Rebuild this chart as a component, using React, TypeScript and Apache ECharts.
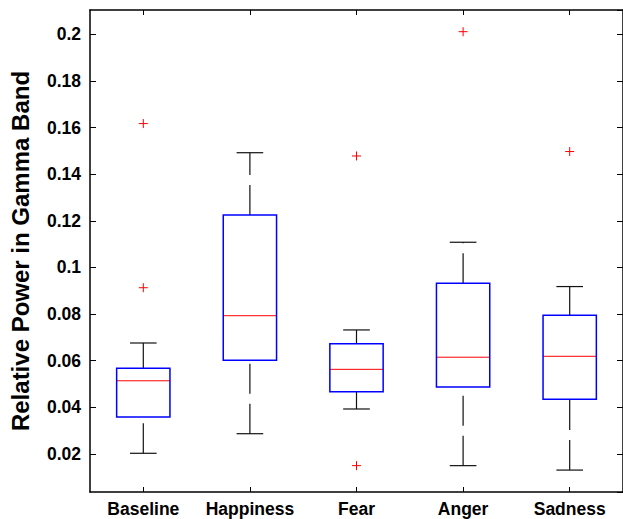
import React, { useEffect, useRef } from "react";
import * as echarts from "echarts";

const categories = ["Baseline", "Happiness", "Fear", "Anger", "Sadness"];
const lowerWhisker = [0.0203, 0.0287, 0.0393, 0.015, 0.0131];
const q1 = [0.0359, 0.0602, 0.0467, 0.0487, 0.0435];
const median = [0.0514, 0.0793, 0.0563, 0.0615, 0.0619];
const q3 = [0.0568, 0.1225, 0.0673, 0.0932, 0.0795];
const upperWhisker = [0.0676, 0.1492, 0.0732, 0.1108, 0.0918];
const outlierCategory = [0, 0, 2, 2, 3, 4];
const outlierValue = [0.1617, 0.0913, 0.1478, 0.015, 0.2011, 0.1497];

const Y_MIN = 0.0037;
const Y_MAX = 0.2104;
const FONT = "'Liberation Sans', Arial, Helvetica, sans-serif";

export default function App() {
  const ref = useRef<HTMLDivElement>(null);

  useEffect(() => {
    if (!ref.current) return;
    const chart = echarts.init(ref.current, undefined, { renderer: "svg" });

    const boxData = categories.map((_, i) => [
      i,
      lowerWhisker[i],
      q1[i],
      median[i],
      q3[i],
      upperWhisker[i],
    ]);
    const outlierData = outlierCategory.map((c, i) => [c, outlierValue[i]]);

    const axisLineStyle = { color: "#000", width: 1.5 };
    const tickStyle = { color: "#000", width: 1 };

    const yLabelFormatter = (v: number) => {
      const k = Math.round(v / 0.02);
      if (Math.abs(v - k * 0.02) > 1e-6 || k === 0) return "";
      return String(+(k * 0.02).toFixed(2));
    };

    const option: any = {
      animation: false,
      backgroundColor: "#fff",
      grid: { left: 90, top: 10, width: 537, height: 482, containLabel: false },
      xAxis: [
        {
          type: "category",
          data: categories,
          position: "bottom",
          boundaryGap: true,
          axisLine: { show: true, onZero: false, lineStyle: axisLineStyle },
          axisTick: { show: true, inside: true, alignWithLabel: true, interval: 0, length: 5, lineStyle: tickStyle },
          axisLabel: {
            interval: 0,
            hideOverlap: false,
            color: "#000",
            fontFamily: FONT,
            fontWeight: "bold",
            fontSize: 17.5,
            margin: 8,
          },
          splitLine: { show: false },
        },
        {
          type: "category",
          data: categories,
          position: "top",
          boundaryGap: true,
          axisLine: { show: true, onZero: false, lineStyle: axisLineStyle },
          axisTick: { show: true, inside: true, alignWithLabel: true, interval: 0, length: 5, lineStyle: tickStyle },
          axisLabel: { show: false, interval: 0 },
          splitLine: { show: false },
        },
      ],
      yAxis: [
        {
          type: "value",
          position: "left",
          min: Y_MIN,
          max: Y_MAX,
          splitNumber: 10,
          name: "Relative Power in Gamma Band",
          nameLocation: "middle",
          nameGap: 58,
          nameTextStyle: {
            color: "#000",
            fontFamily: FONT,
            fontWeight: "bold",
            fontSize: 24,
          },
          axisLine: { show: true, onZero: false, lineStyle: axisLineStyle },
          axisTick: { show: true, inside: true, length: 6, lineStyle: tickStyle },
          axisLabel: {
            color: "#000",
            fontFamily: FONT,
            fontWeight: "bold",
            fontSize: 17.5,
            margin: 9,
            showMinLabel: false,
            showMaxLabel: false,
            formatter: yLabelFormatter,
          },
          splitLine: { show: false },
        },
        {
          type: "value",
          position: "right",
          min: Y_MIN,
          max: Y_MAX,
          splitNumber: 10,
          axisLine: { show: true, onZero: false, lineStyle: axisLineStyle },
          axisTick: { show: true, inside: true, length: 6, lineStyle: tickStyle },
          axisLabel: { show: false },
          splitLine: { show: false },
        },
      ],
      series: [
        {
          type: "custom",
          xAxisIndex: 0,
          yAxisIndex: 0,
          data: boxData,
          encode: { x: 0, y: [1, 2, 3, 4, 5] },
          renderItem: (params: any, api: any) => {
            const idx = api.value(0);
            const x = api.coord([idx, api.value(3)])[0];
            const band = api.size([1, 0])[0];
            const bw = band * 0.25;
            const cw = band * 0.125;
            const yLo = api.coord([idx, api.value(1)])[1];
            const yQ1 = api.coord([idx, api.value(2)])[1];
            const yMed = api.coord([idx, api.value(3)])[1];
            const yQ3 = api.coord([idx, api.value(4)])[1];
            const yHi = api.coord([idx, api.value(5)])[1];
            const whiskerStyle = { stroke: "#111", lineWidth: 1.2, lineDash: [30, 10], fill: "none" };
            const capStyle = { stroke: "#111", lineWidth: 1.2, fill: "none" };
            return {
              type: "group",
              children: [
                {
                  type: "line",
                  shape: { x1: x, y1: yQ3, x2: x, y2: yHi },
                  style: whiskerStyle,
                },
                {
                  type: "line",
                  shape: { x1: x, y1: yLo, x2: x, y2: yQ1 },
                  style: whiskerStyle,
                },
                {
                  type: "line",
                  shape: { x1: x - cw, y1: yHi, x2: x + cw, y2: yHi },
                  style: capStyle,
                },
                {
                  type: "line",
                  shape: { x1: x - cw, y1: yLo, x2: x + cw, y2: yLo },
                  style: capStyle,
                },
                {
                  type: "line",
                  shape: { x1: x - bw, y1: yMed, x2: x + bw, y2: yMed },
                  style: { stroke: "#ff0000", lineWidth: 1, fill: "none" },
                },
                {
                  type: "rect",
                  shape: { x: x - bw, y: yQ3, width: 2 * bw, height: yQ1 - yQ3 },
                  style: { stroke: "#0000ff", lineWidth: 1.5, fill: "none" },
                },
              ],
            };
          },
        },
        {
          type: "custom",
          xAxisIndex: 0,
          yAxisIndex: 0,
          data: outlierData,
          encode: { x: 0, y: 1 },
          renderItem: (params: any, api: any) => {
            const p = api.coord([api.value(0), api.value(1)]);
            const h = 4.5;
            const st = { stroke: "#ff0000", lineWidth: 1, fill: "none" };
            return {
              type: "group",
              children: [
                { type: "line", shape: { x1: p[0] - h, y1: p[1], x2: p[0] + h, y2: p[1] }, style: st },
                { type: "line", shape: { x1: p[0], y1: p[1] - h, x2: p[0], y2: p[1] + h }, style: st },
              ],
            };
          },
        },
      ],
    };

    chart.setOption(option);
    return () => chart.dispose();
  }, []);

  return (
    <div
      ref={ref}
      style={{ position: "absolute", left: 0, top: 0, width: 623, height: 519, background: "#fff" }}
    />
  );
}
